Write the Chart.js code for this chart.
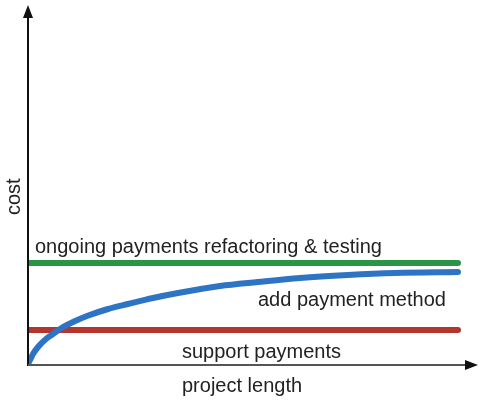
<!DOCTYPE html>
<html>
<head>
<meta charset="utf-8">
<script src="https://cdn.jsdelivr.net/npm/chart.js@4"></script>
<style>
html,body{margin:0;padding:0;background:#fff;}
#wrap{width:481px;height:402px;}
</style>
</head>
<body>
<div id="wrap"><canvas id="c"></canvas></div>
<script>
// project length (x) positions for each sample
const projectLength = [0, 2, 5, 10, 18, 25, 35, 45, 59, 80, 100, 125, 150, 192, 230, 272, 320, 367, 430];
// cost of "add payment method" (blue curve)
const addPaymentMethod = [1, 5, 11, 18, 26, 31, 38, 43, 49, 56, 61, 67, 72, 79, 83, 87, 90, 92, 93];
// constant costs
const ongoingRefactoring = 102;
const supportPayments = 35;
const lineEnds = [0, 430];

const labels = {
  ongoing: "ongoing payments refactoring & testing",
  add: "add payment method",
  support: "support payments",
  xTitle: "project length",
  yTitle: "cost"
};

const FONT = '20px "Liberation Sans", Arial, sans-serif';

const axesPlugin = {
  id: 'axesArrows',
  afterDraw(chart) {
    const ctx = chart.ctx;
    const a = chart.chartArea;
    ctx.save();
    // y axis
    ctx.strokeStyle = '#111';
    ctx.fillStyle = '#111';
    ctx.lineWidth = 2;
    ctx.beginPath();
    ctx.moveTo(a.left, a.bottom + 1);
    ctx.lineTo(a.left, a.top + 8);
    ctx.stroke();
    ctx.beginPath();
    ctx.moveTo(a.left, a.top);
    ctx.lineTo(a.left - 5, a.top + 13);
    ctx.lineTo(a.left + 5, a.top + 13);
    ctx.closePath();
    ctx.fill();
    // x axis
    ctx.strokeStyle = '#555';
    ctx.fillStyle = '#111';
    ctx.beginPath();
    ctx.moveTo(a.left, a.bottom);
    ctx.lineTo(a.right - 8, a.bottom);
    ctx.stroke();
    ctx.beginPath();
    ctx.moveTo(a.right, a.bottom);
    ctx.lineTo(a.right - 13, a.bottom - 5);
    ctx.lineTo(a.right - 13, a.bottom + 5);
    ctx.closePath();
    ctx.fill();

    // texts
    ctx.font = FONT;
    ctx.fillStyle = '#222';
    ctx.textBaseline = 'alphabetic';
    ctx.textAlign = 'left';
    ctx.fillText(labels.ongoing, a.left + 7, 253);
    ctx.fillText(labels.add, 258, 306);
    ctx.fillText(labels.support, 182, 358);
    ctx.fillText(labels.xTitle, 182, 392);
    ctx.save();
    ctx.translate(20, 215);
    ctx.rotate(-Math.PI / 2);
    ctx.fillText(labels.yTitle, 0, 0);
    ctx.restore();
    ctx.restore();
  }
};

new Chart(document.getElementById('c'), {
  type: 'scatter',
  data: {
    datasets: [
      {
        label: labels.ongoing,
        data: lineEnds.map(x => ({x, y: ongoingRefactoring})),
        showLine: true,
        borderColor: '#2a9547',
        borderWidth: 6,
        borderCapStyle: 'round',
        pointRadius: 0
      },
      {
        label: labels.add,
        data: projectLength.map((x, i) => ({x, y: addPaymentMethod[i]})),
        showLine: true,
        borderColor: '#2d74c4',
        borderWidth: 6,
        borderCapStyle: 'round',
        cubicInterpolationMode: 'monotone',
        pointRadius: 0
      },
      {
        label: labels.support,
        data: lineEnds.map(x => ({x, y: supportPayments})),
        showLine: true,
        borderColor: '#b3352e',
        borderWidth: 6,
        borderCapStyle: 'round',
        pointRadius: 0
      }
    ]
  },
  options: {
    responsive: true,
    maintainAspectRatio: false,
    animation: false,
    layout: { padding: { left: 28, right: 3, top: 5, bottom: 37 } },
    plugins: { legend: { display: false }, tooltip: { enabled: false } },
    scales: {
      x: {
        type: 'linear', min: 0, max: 450,
        display: false
      },
      y: {
        type: 'linear', min: 0, max: 360,
        display: false
      }
    }
  },
  plugins: [axesPlugin]
});
</script>
</body>
</html>
